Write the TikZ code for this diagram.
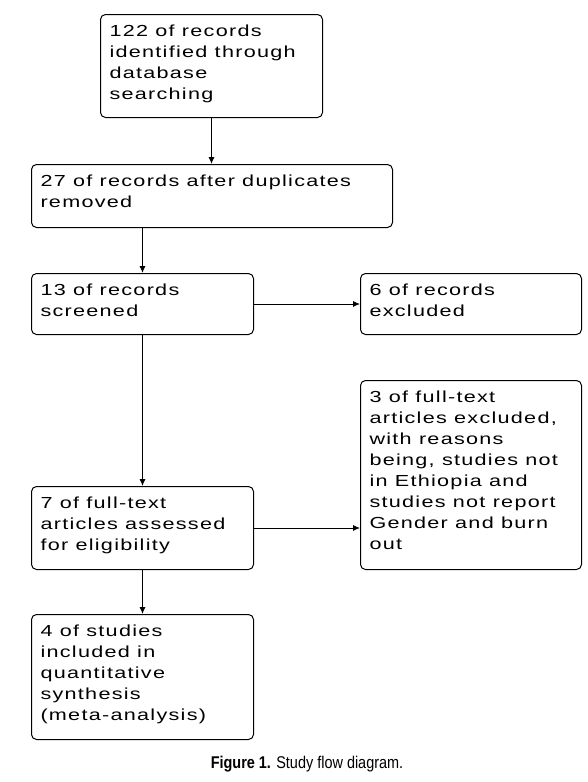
\documentclass[tikz,border=0pt]{standalone}
\usepackage{fontspec}
\setmainfont{Liberation Sans}
\newfontfamily\boxfont[FakeStretch=1.35,LetterSpace=8]{Liberation Sans}
\newfontfamily\capfont[FakeStretch=0.85]{Liberation Sans}
\usetikzlibrary{arrows.meta}

\tikzset{
  flowbox/.style={draw, rounded corners=5pt, line width=1pt, anchor=north west,
    inner xsep=9pt, inner ysep=10pt, font=\boxfont\fontsize{16}{21}\selectfont},
  flowarrow/.style={line width=0.9pt, -{Latex[length=7pt,width=6pt]}}
}
% text block of a fixed size, set from the top left
\newcommand{\boxtext}[3]{\parbox[t][#2][t]{#1}{\raggedright #3}}

\begin{document}
\begin{tikzpicture}[x=1pt,y=-1pt]
        \useasboundingbox (0,0) rectangle (588,782);
        \node[flowbox] (rec) at (100,14) {\boxtext{204pt}{83pt}{122 of records\\identified through\\database\\searching}};
        \node[flowbox] (dup) at (31,164) {\boxtext{343pt}{43pt}{27 of records after duplicates\\removed}};
        \node[flowbox] (scr) at (31,273) {\boxtext{204pt}{41pt}{13 of records\\screened}};
        \node[flowbox] (exc) at (360,273) {\boxtext{203pt}{41pt}{6 of records\\excluded}};
        \node[flowbox] (ftex) at (360,380) {\boxtext{203pt}{169pt}{3 of full-text\\articles excluded,\\with reasons\\being, studies not\\in Ethiopia and\\studies not report\\Gender and burn\\out}};
        \node[flowbox] (ftx) at (31,486) {\boxtext{204pt}{63pt}{7 of full-text\\articles assessed\\for eligibility}};
        \node[flowbox] (inc) at (31,614) {\boxtext{204pt}{105pt}{4 of studies\\included in\\quantitative\\synthesis\\(meta-analysis)}};
        \draw[flowarrow] (rec.south) -- (rec.south |- dup.north);
        \draw[flowarrow] (dup.south -| scr.north) -- (scr.north);
        \draw[flowarrow] (scr.east) -- (scr.east -| exc.west);
        \draw[flowarrow] (scr.south) -- (ftx.north);
        \draw[flowarrow] (ftx.east) -- (ftx.east -| ftex.west);
        \draw[flowarrow] (ftx.south) -- (inc.north);
        \node (cap) at (307,764) {\capfont\fontsize{17}{20}\selectfont\textbf{Figure 1.} Study flow diagram.};
    \end{tikzpicture}
\end{document}
